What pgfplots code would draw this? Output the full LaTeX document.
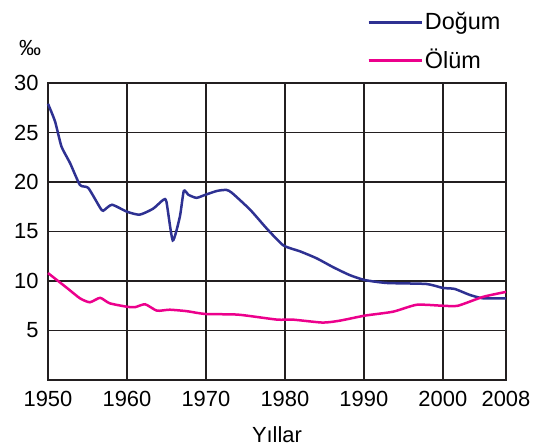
\documentclass[border=0pt]{standalone}
\usepackage{pgfplots}
\pgfplotsset{compat=1.18}
\usepackage{fontspec}
\setmainfont{Liberation Sans}
\definecolor{dogum}{HTML}{2E3192}
\definecolor{olum}{HTML}{EC008C}
\definecolor{gridk}{HTML}{231F20}
\begin{document}
\fontsize{22}{26}\selectfont
\begin{tikzpicture}
\useasboundingbox (-48bp,-66bp) rectangle (492bp,380bp);
\begin{axis}[
  at={(0,0)}, anchor=south west,
  scale only axis, width=458bp, height=297bp,
  xmin=1950, xmax=2008, ymin=0, ymax=30,
  xtick={1950,1960,1970,1980,1990,2000,2008},
  ytick={5,10,15,20,25,30},
  xticklabels={1950,1960,1970,1980,1990,2000,2008},
  yticklabels={5,10,15,20,25,30},
  major tick length=0pt,
  grid=major,
  grid style={gridk, line width=1.8bp},
  axis line style={gridk, line width=1.8bp},
  /pgf/number format/assume math mode=true,
  ticklabel style={font=\fontsize{22}{26}\selectfont},
  xticklabel style={yshift=-4bp},
  yticklabel style={xshift=-2bp},
  xlabel={Yıllar},
  xlabel style={font=\fontsize{22}{26}\selectfont, yshift=-5bp},
  legend style={at={(rel axis cs:0.697,1.245)}, anchor=north west, draw=none, fill=none,
    font=\fontsize{23.5}{27}\selectfont, inner sep=0pt, row sep=12bp},
  legend cell align=left,
  legend image code/.code={\draw[#1, line width=2.4bp] (0bp,0bp) -- (45bp,0bp);
    \path (0bp,0bp) -- (53bp,0bp);},
  clip=false,
]
\addplot[dogum, line width=2.5bp, smooth, tension=0.35] coordinates {
(1950,27.9) (1950.9,26.1) (1951.7,23.6) (1952.8,21.9) (1954.05,19.7) (1955.1,19.4)
(1956.6,17.4) (1957,17.1) (1958.1,17.7) (1960,17.0) (1961.6,16.7) (1963.3,17.3)
(1964.6,18.2) (1965.0,18.0) (1965.8,14.1) (1966.7,16.5) (1967.2,19.1) (1967.8,18.7)
(1968.8,18.4) (1969.9,18.7) (1971.4,19.1) (1972.6,19.2) (1973.3,18.9) (1975.6,17.2)
(1977.7,15.3) (1979.8,13.6) (1981.9,13.0) (1984.0,12.3) (1986.1,11.4) (1988.2,10.6)
(1990.1,10.1) (1992.9,9.8) (1997.9,9.7) (2000,9.3) (2001.5,9.2) (2003.4,8.6)
(2005.1,8.25) (2008,8.25)
};
\addlegendentry{Doğum}
\addplot[olum, line width=2.5bp, smooth, tension=0.35] coordinates {
(1950,10.8) (1952.4,9.3) (1954.05,8.25) (1955.3,7.85) (1956.6,8.3) (1957.8,7.75)
(1960,7.4) (1961,7.35) (1962.3,7.65) (1963.8,7.0) (1965.4,7.1) (1967.6,6.95)
(1969.9,6.67) (1974.1,6.6) (1979,6.1) (1981,6.1) (1984.8,5.8) (1987,6.0)
(1990.1,6.5) (1993.7,6.9) (1996.7,7.6) (2000,7.5) (2001.9,7.5) (2005.1,8.4) (2008,8.9)
};
\addlegendentry{Ölüm}
\end{axis}
\node at (-18bp,332bp) {‰};
\end{tikzpicture}
\end{document}
